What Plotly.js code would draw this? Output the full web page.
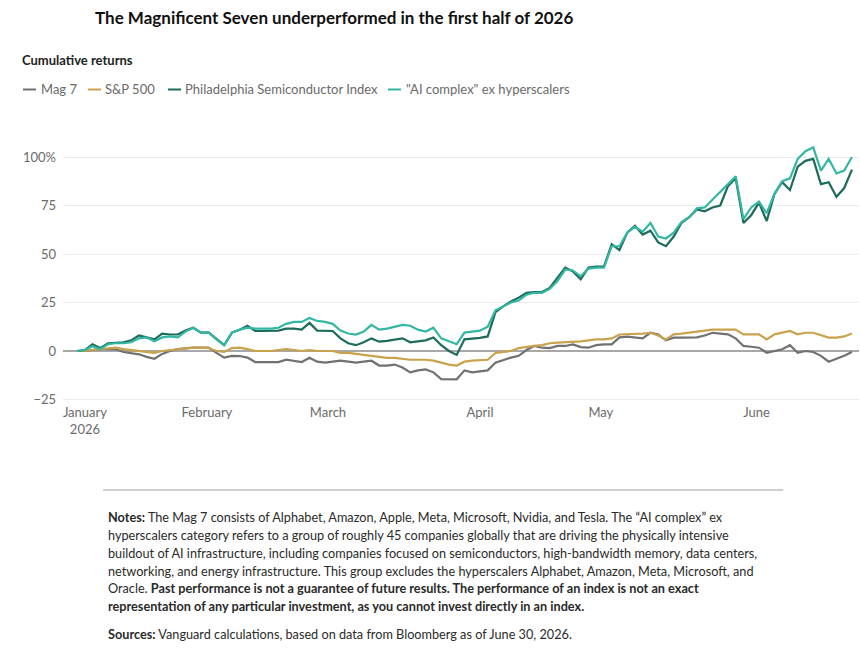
<!DOCTYPE html>
<html>
<head>
<meta charset="utf-8">
<script src="https://cdn.plot.ly/plotly-3.0.1.min.js"></script>
<style>
  html, body { margin: 0; padding: 0; background: #fff; }
  #chart { width: 860px; height: 667px; }
</style>
</head>
<body>
<div id="chart"></div>
<script>
// ---- Data (cumulative returns, %) ----
// Session index 0..100 spans early January to June 30, 2026
const session = [0,1,2,3,4,5,6,7,8,9,10,11,12,13,14,15,16,17,18,19,20,21,22,23,24,25,26,27,28,29,30,31,32,33,34,35,36,37,38,39,40,41,42,43,44,45,46,47,48,49,50,51,52,53,54,55,56,57,58,59,60,61,62,63,64,65,66,67,68,69,70,71,72,73,74,75,76,77,78,79,80,81,82,83,84,85,86,87,88,89,90,91,92,93,94,95,96,97,98,99,100];

const mag7 = [0,0,0.5,1,1,0.9,-0.5,-1,-1.7,-3,-4,-1.5,0,1,1.5,1.7,1.7,1.7,-1,-3.4,
  -2.5,-2.6,-3.4,-5.7,-5.7,-5.7,-5.7,-4.5,-5,-5.7,-3.5,-5.5,-6,-5.5,-5,-5.5,-6,-5.5,-5,-7.5,
  -7.5,-7,-8.5,-11,-10,-9.5,-11,-14.5,-14.6,-14.6,-10,-11,-10.5,-10,-6,-4.5,-3.4,-2.5,0.5,2.6,
  1.7,1.5,2.6,2.6,3.4,2,1.7,3,3.4,3.4,7,7.4,7,6.5,9.4,8.5,5.5,6.9,6.9,6.9,
  7,8,9.4,9,8.6,6.5,2.6,2.2,1.7,-0.9,0,0.9,3,-0.9,0,-0.5,-2.5,-5.5,-4,-2.5,-0.5];

const sp500 = [0,0,0.5,1,1.5,1.7,1,0.5,0,-0.5,-1,0,0.5,1,1.5,1.7,1.7,1.5,0,-0.5,
  1.5,1.7,1,0,0,0,0.5,1,0.5,0,0.5,0,0,0,-1,-1,-1.5,-2,-2.5,-3,
  -3.5,-3.5,-4,-4.5,-4.5,-4.5,-5,-6,-7,-7.5,-5.5,-5,-4.8,-4.5,-1,-0.5,0,1.5,2.2,2.6,
  3,4,4.3,4.5,4.8,5,5.5,6,6,6.5,8.5,8.6,8.6,9,9.4,8,6,8.6,9,9.5,
  10.3,10.5,11,11,11,11,8.6,8.6,8.6,6,8.6,9.5,10.3,8.6,9.4,9.4,8,6.9,6.9,7.5,9];

const sox = [0,0.5,3.5,1.5,4,4.3,4.5,5.5,8,7,6,9,8.5,8.5,10.5,12,9.5,9.5,6,3,
  9.5,11,13,10.3,10.3,10.3,10.5,11.5,11.5,11,14.5,10.5,10.3,10.3,6.5,4,3,4.5,6.5,4.8,
  5.2,6,6.5,4.5,5,5.5,7,3,0,-2,6,6.3,6.8,7.5,20,23,25.5,27.5,30,30.4,
  30.4,32.5,38,43,41,37,43,43.5,43.5,55,52,61,64.5,60,62,56,54,59,66,69,
  73,72,74,75,85,89,66,70,76.5,67,81,87,83,95,98,99,86,87,79.5,84,93.5];

const aiComplex = [0,0.5,2.5,1,3.5,4,4,4.5,6.5,7,5,7,7.5,7,10,12,9.5,9.5,6,3,
  9.5,11,12,11.5,11.5,11.5,12,14,15,15,17,15.5,15,14,10.5,9,8.5,10,13.5,11,
  11.5,12.5,13.5,13,11,10,12,6.5,5,3.5,9.5,10,10.5,12.5,21,23,25,26,29,30,
  30,32,36,42,41.5,38.5,42.5,43,43,54,54,61,64,61.5,66,59,58,61,66.5,69,
  73.5,74,78,82,86,90,68,74,77,71,81,87.5,89,99,103,105,93,99,91.5,93,100];

const tickPos = [1.03, 16.77, 32.39, 52, 67.6, 87.7];
const tickText = ['January<br>2026', 'February', 'March', 'April', 'May', 'June'];
const yTickVals = [-25, 0, 25, 50, 75, 100];
const yTickText = ['\u221225', '0', '25', '50', '75', '100%'];

const seriesNames = ['Mag 7', 'S&P 500', 'Philadelphia Semiconductor Index', '"AI complex" ex hyperscalers'];
const seriesColors = ['#717171', '#c9a24c', '#1c6b5b', '#33b7a3'];
const seriesData = [mag7, sp500, sox, aiComplex];

// ---- Layout geometry ----
const W = 860, H = 667;
const M = {l: 63, r: 1, t: 134, b: 264};
const PW = W - M.l - M.r, PH = H - M.t - M.b;
const px2x = px => (px - M.l) / PW;
const py2y = py => (H - M.b - py) / PH;

const FONT = 'Lato, "Noto Sans", sans-serif';

const traces = seriesData.map((d, k) => ({
  type: 'scatter', mode: 'lines', x: session, y: d, name: seriesNames[k],
  line: {color: seriesColors[k], width: 2.2}, showlegend: false, hoverinfo: 'skip'
}));

const ann = [];
const shapes = [];
function txt(text, px, py, size, color, anchor) {
  ann.push({text: text, xref: 'paper', yref: 'paper', x: px2x(px), y: py2y(py),
    xanchor: anchor || 'left', yanchor: 'middle', showarrow: false,
    font: {family: FONT, size: size, color: color}, align: 'left', borderpad: 0});
}

// Title & subtitle
txt('<b>The Magnificent Seven underperformed in the first half of 2026</b>', 94, 18, 17, '#111');
txt('<b>Cumulative returns</b>', 21, 60, 13, '#222');

// Legend (manual, short line keys)
const keyX = [23, 88, 168, 388];
const labelX = [40, 104, 184, 405];
seriesNames.forEach((n, k) => {
  shapes.push({type: 'line', xref: 'paper', yref: 'paper',
    x0: px2x(keyX[k]), x1: px2x(keyX[k] + 13), y0: py2y(89.5), y1: py2y(89.5),
    line: {color: seriesColors[k], width: 2}});
  txt(n, labelX[k], 89, 13, '#6a6a6a');
});

// Notes
const noteLines = [
  '<b>Notes:</b> The Mag 7 consists of Alphabet, Amazon, Apple, Meta, Microsoft, Nvidia, and Tesla. The \u201cAI complex\u201d ex',
  'hyperscalers category refers to a group of roughly 45 companies globally that are driving the physically intensive',
  'buildout of AI infrastructure, including companies focused on semiconductors, high-bandwidth memory, data centers,',
  'networking, and energy infrastructure. This group excludes the hyperscalers Alphabet, Amazon, Meta, Microsoft, and',
  'Oracle. <b>Past performance is not a guarantee of future results. The performance of an index is not an exact</b>',
  '<b>representation of any particular investment, as you cannot invest directly in an index.</b>'
];
const noteY = [517, 535, 553, 571, 588, 606];
noteLines.forEach((l, i) => txt(l, 107, noteY[i], 12.7, '#2a2a2a'));
txt('<b>Sources:</b> Vanguard calculations, based on data from Bloomberg as of June 30, 2026.', 107, 634, 12.7, '#2a2a2a');

shapes.push({type: 'line', xref: 'paper', yref: 'paper',
  x0: px2x(103), x1: px2x(783), y0: py2y(490), y1: py2y(490),
  line: {color: '#cfcfcf', width: 2}});

const layout = {
  width: W, height: H,
  margin: M,
  paper_bgcolor: '#fff', plot_bgcolor: '#fff',
  font: {family: FONT, color: '#666', size: 12.5},
  xaxis: {
    range: [-1.8, -1.8 + PW / 7.75],
    tickmode: 'array', tickvals: tickPos, ticktext: tickText,
    showgrid: false, zeroline: false, showline: false, ticks: '',
    tickfont: {family: FONT, size: 13, color: '#6a6a6a'},
    fixedrange: true
  },
  yaxis: {
    range: [-(PH - 217) / 1.94, 217 / 1.94],
    tickmode: 'array', tickvals: yTickVals, ticktext: yTickText,
    showgrid: true, gridcolor: '#ececec', gridwidth: 1,
    zeroline: true, zerolinecolor: '#a8a8a8', zerolinewidth: 1.5,
    showline: false, ticks: '', ticklabelstandoff: 6,
    tickfont: {family: FONT, size: 13, color: '#6a6a6a'},
    fixedrange: true
  },
  annotations: ann,
  shapes: shapes
};

Plotly.newPlot('chart', traces, layout, {displayModeBar: false, staticPlot: true});
</script>
</body>
</html>
